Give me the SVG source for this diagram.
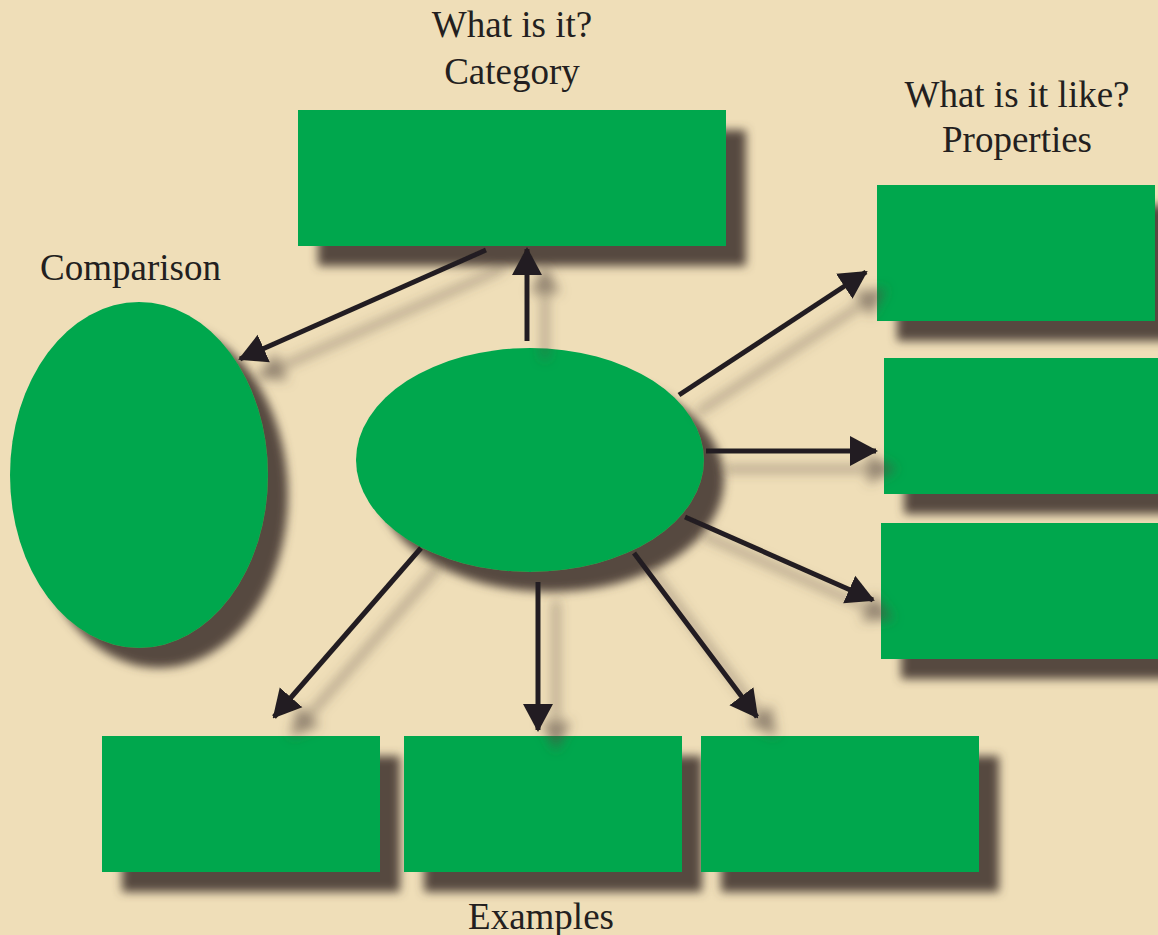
<svg xmlns="http://www.w3.org/2000/svg" width="1158" height="935" viewBox="0 0 1158 935">
<defs>
<style>
.node{fill:#00a74e;}
.lbl{font-family:"Liberation Serif","Times New Roman",serif;font-size:37px;fill:#231f20;}
.conn{stroke:#231f20;stroke-width:5;fill:none;}
</style>
<filter id="sh" x="-20%" y="-20%" width="150%" height="150%">
<feDropShadow dx="20" dy="20" stdDeviation="5" flood-color="#564a40" flood-opacity="1"/>
</filter>
<filter id="ash" x="-30%" y="-30%" width="170%" height="170%">
<feDropShadow dx="18" dy="18" stdDeviation="6" flood-color="#564a40" flood-opacity="0.6"/>
</filter>
<marker id="ah" markerUnits="userSpaceOnUse" markerWidth="28" markerHeight="32" viewBox="0 0 28 32" refX="26" refY="16" orient="auto">
<path d="M0,1 L28,16 L0,31 Z" fill="#231f20"/>
</marker>
</defs>
<rect width="1158" height="935" fill="#efdeb8"/>
<g id="category"><rect class="node" filter="url(#sh)" x="298" y="110" width="428" height="136"/></g>
<g id="comparison"><ellipse class="node" filter="url(#sh)" cx="139" cy="475" rx="129" ry="173"/></g>
<g id="center"><ellipse class="node" filter="url(#sh)" cx="530" cy="460" rx="174" ry="112"/></g>
<g id="prop1"><rect class="node" filter="url(#sh)" x="877" y="185" width="278" height="136"/></g>
<g id="prop2"><rect class="node" filter="url(#sh)" x="884" y="358" width="280" height="136"/></g>
<g id="prop3"><rect class="node" filter="url(#sh)" x="881" y="523" width="283" height="136"/></g>
<g id="ex1"><rect class="node" filter="url(#sh)" x="102" y="736" width="278" height="136"/></g>
<g id="ex2"><rect class="node" filter="url(#sh)" x="404" y="736" width="278" height="136"/></g>
<g id="ex3"><rect class="node" filter="url(#sh)" x="701" y="736" width="278" height="136"/></g>
<g id="connectors" filter="url(#ash)">
<line class="conn" x1="527" y1="341" x2="527" y2="249" marker-end="url(#ah)"/>
<line class="conn" x1="486" y1="250" x2="240" y2="359" marker-end="url(#ah)"/>
<line class="conn" x1="679" y1="395" x2="866" y2="272" marker-end="url(#ah)"/>
<line class="conn" x1="706" y1="451" x2="876" y2="451" marker-end="url(#ah)"/>
<line class="conn" x1="685" y1="517" x2="873" y2="600" marker-end="url(#ah)"/>
<line class="conn" x1="421" y1="548" x2="274" y2="717" marker-end="url(#ah)"/>
<line class="conn" x1="538" y1="582" x2="538" y2="730" marker-end="url(#ah)"/>
<line class="conn" x1="634" y1="553" x2="757" y2="717" marker-end="url(#ah)"/>
</g>
<g id="labels">
<text class="lbl" x="512" y="37" text-anchor="middle">What is it?</text>
<text class="lbl" x="512" y="84" text-anchor="middle">Category</text>
<text class="lbl" x="40" y="280">Comparison</text>
<text class="lbl" x="1017" y="107" text-anchor="middle">What is it like?</text>
<text class="lbl" x="1017" y="152" text-anchor="middle">Properties</text>
<text class="lbl" x="541" y="929" text-anchor="middle">Examples</text>
</g>
</svg>
